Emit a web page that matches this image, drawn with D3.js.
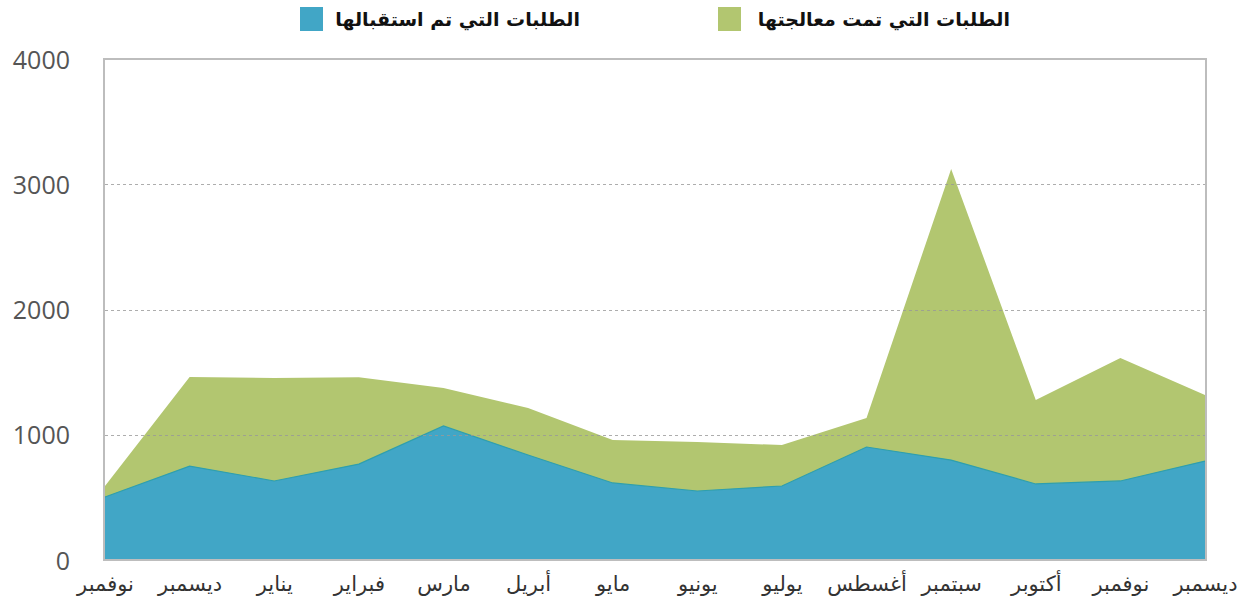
<!DOCTYPE html>
<html><head><meta charset="utf-8">
<script src="https://cdn.jsdelivr.net/npm/d3@7"></script>
<style>body{margin:0;background:#fff}svg{display:block}</style>
</head><body>
<svg id="c" width="1253" height="611"></svg>
<script>
const months = ["نوفمبر","ديسمبر","يناير","فبراير","مارس","أبريل","مايو","يونيو","يوليو","أغسطس","سبتمبر","أكتوبر","نوفمبر","ديسمبر"];
const processed = [590,1461,1453,1460,1373,1213,958,942,918,1134,3122,1277,1613,1317];
const received = [503,750,631,766,1070,838,615,551,591,902,798,607,631,790];
const yTicks = [0,1000,2000,3000,4000];
const seriesNames = ["الطلبات التي تم استقبالها","الطلبات التي تمت معالجتها"];
const colors = ["#41a6c6","#b2c670"];

const svg = d3.select("#c");
const L=104, R=1206, T=59, B=560;
const x = d3.scalePoint().domain(d3.range(months.length)).range([L+1,R-1]);
const y = d3.scaleLinear().domain([0,4000]).range([B,T]);

const areaG = d3.area().x((d,i)=>x(i)).y0(y(0)).y1(d=>y(d));
svg.append("path").datum(processed).attr("d",areaG).attr("fill",colors[1]);
svg.append("path").datum(received).attr("d",areaG).attr("fill",colors[0]);
svg.append("path").datum(received).attr("d",d3.line().x((d,i)=>x(i)).y(d=>y(d)))
  .attr("fill","none").attr("stroke","#2e9fae").attr("stroke-width",1.2);

// gridlines
svg.append("g").selectAll("line").data(yTicks.filter(v=>v>0&&v<4000)).join("line")
  .attr("x1",L+1).attr("x2",R-1).attr("y1",d=>Math.round(y(d))+0.5).attr("y2",d=>Math.round(y(d))+0.5)
  .attr("stroke","#999").attr("stroke-dasharray","3,3").attr("stroke-width",1).attr("opacity",0.8);

// frame
svg.append("rect").attr("x",L).attr("y",T).attr("width",R-L).attr("height",B-T)
  .attr("fill","none").attr("stroke","#bdbdbd").attr("stroke-width",2);

// y axis
const ya = d3.axisLeft(y).tickValues(yTicks).tickSize(0).tickPadding(0).tickFormat(d3.format("d"));
const yg = svg.append("g").attr("transform",`translate(70,0)`).call(ya);
yg.select(".domain").remove();
yg.selectAll("text").attr("font-family","'Open Sans', 'Liberation Sans', sans-serif").attr("font-size",25).attr("fill","#555").attr("dy","0.36em");

// x axis
const xa = d3.axisBottom(x).tickSize(0).tickPadding(0).tickFormat(i=>months[i]);
const xg = svg.append("g").attr("transform",`translate(0,${B+15})`).call(xa);
xg.select(".domain").remove();
xg.selectAll("text").attr("font-family","'DejaVu Sans', sans-serif").attr("font-size",21).attr("fill","#333").attr("dy","0.75em");

// legend
const leg = [{sx:300, tx:580, c:colors[0], t:seriesNames[0]},{sx:718, tx:1010, c:colors[1], t:seriesNames[1]}];
leg.forEach(l=>{
  svg.append("rect").attr("x",l.sx).attr("y",7).attr("width",23).attr("height",24).attr("fill",l.c);
  svg.append("text").attr("x",l.tx).attr("y",19).attr("dy","0.35em").attr("text-anchor","start")
    .attr("direction","rtl").attr("font-family","'DejaVu Sans', sans-serif").attr("font-weight","bold").attr("font-size",19).attr("fill","#111").text(l.t);
});
</script>
</body></html>
